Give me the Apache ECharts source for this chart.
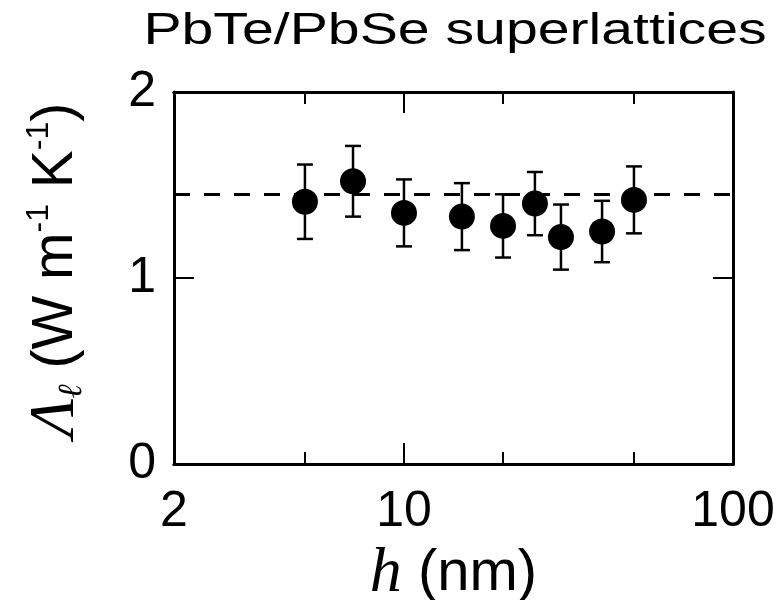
<!DOCTYPE html>
<html>
<head>
<meta charset="utf-8">
<script src="https://cdn.jsdelivr.net/npm/echarts@6.0.0/dist/echarts.min.js"></script>
<style>
    html, body { margin: 0; padding: 0; background: #fff; }
    #main { width: 778px; height: 600px; }
</style>
</head>
<body>
<div id="main"></div>
<script>
var chart = echarts.init(document.getElementById('main'));

// period thickness h (nm), conductivity and error bar half-height
var hValues = [5, 7, 10, 15, 20, 25, 30, 40, 50];
var kValues = [1.41, 1.52, 1.35, 1.33, 1.28, 1.40, 1.22, 1.25, 1.42];
var kErrors = [0.20, 0.19, 0.18, 0.18, 0.17, 0.17, 0.175, 0.165, 0.18];
var meanLine = 1.45;

var xMajorTicks = [10];
var xMinorTicks = [5, 20, 50];
var xLabels = [2, 10, 100];

var points = [];
var bars = [];
for (var i = 0; i < hValues.length; i++) {
    points.push([hValues[i], kValues[i]]);
    bars.push([hValues[i], kValues[i] - kErrors[i], kValues[i] + kErrors[i]]);
}

var black = '#000';
var sans = 'Liberation Sans';

function xAxisDef(pos, ticks, len, labels) {
    return {
        type: 'log',
        logBase: 10,
        min: 2,
        max: 100,
        position: pos,
        axisLine: { show: true, onZero: false, lineStyle: { color: black, width: 3 } },
        axisTick: { show: true, inside: true, length: len, customValues: ticks, lineStyle: { color: black, width: 2 } },
        axisLabel: labels ? {
            show: true, customValues: labels, margin: 23,
            color: black, fontFamily: sans, fontSize: 50
        } : { show: false },
        splitLine: { show: false },
        minorTick: { show: false },
        minorSplitLine: { show: false }
    };
}

function yAxisDef(pos, labels) {
    return {
        type: 'value',
        min: 0,
        max: 2,
        interval: 1,
        position: pos,
        axisLine: { show: true, onZero: false, lineStyle: { color: black, width: 3 } },
        axisTick: { show: true, inside: true, length: 20, lineStyle: { color: black, width: 2 } },
        axisLabel: labels ? { show: true, margin: 18, color: black, fontFamily: sans, fontSize: 50 } : { show: false },
        splitLine: { show: false }
    };
}

var bottomAxis = xAxisDef('bottom', xMajorTicks, 21, xLabels);
bottomAxis.name = '{it|h}{rm| (nm)}';
bottomAxis.nameLocation = 'middle';
bottomAxis.nameGap = 68;
bottomAxis.nameTextStyle = {
    rich: {
        it: { fontFamily: 'Liberation Serif', fontStyle: 'italic', fontSize: 64, color: black },
        rm: { fontFamily: sans, fontSize: 58, color: black }
    }
};

var option = {
    backgroundColor: '#fff',
    animation: false,
    grid: { left: 174, right: 45, top: 92, bottom: 136, containLabel: false, outerBoundsMode: 'none' },
    xAxis: [
        bottomAxis,
        xAxisDef('bottom', xMinorTicks, 12, null),
        xAxisDef('top', xMajorTicks, 21, null),
        xAxisDef('top', xMinorTicks, 12, null)
    ],
    yAxis: [yAxisDef('left', true), yAxisDef('right', false)],
    graphic: [
        {
            type: 'text',
            x: 455,
            y: 10,
            scaleX: 1.3,
            style: {
                text: 'PbTe/PbSe superlattices',
                fontFamily: sans,
                fontSize: 44,
                fill: black,
                align: 'center',
                verticalAlign: 'top'
            }
        },
        {
            type: 'text',
            x: 56,
            y: 270,
            rotation: Math.PI / 2,
            style: {
                text: '{a|Λ}{b|ℓ}{c| (W m}{d|-1}{c| K}{d|-1}{c|)}',
                align: 'center',
                verticalAlign: 'middle',
                rich: {
                    a: { fontFamily: 'Liberation Serif', fontStyle: 'italic', fontSize: 64, lineHeight: 66, fill: black },
                    b: { fontFamily: 'DejaVu Serif', fontStyle: 'italic', fontSize: 34, lineHeight: 34, verticalAlign: 'bottom', fill: black },
                    c: { fontFamily: sans, fontSize: 57, lineHeight: 66, fill: black },
                    d: { fontFamily: sans, fontSize: 32, lineHeight: 32, verticalAlign: 'top', fill: black }
                }
            }
        }
    ],
    series: [
        {
            type: 'custom',
            xAxisIndex: 0,
            yAxisIndex: 0,
            silent: true,
            renderItem: function (params, api) {
                var x = api.value(0);
                var lo = api.coord([x, api.value(1)]);
                var hi = api.coord([x, api.value(2)]);
                var cap = 8;
                var style = { stroke: black, lineWidth: 2.5 };
                return {
                    type: 'group',
                    children: [
                        { type: 'line', shape: { x1: lo[0], y1: lo[1], x2: hi[0], y2: hi[1] }, style: style },
                        { type: 'line', shape: { x1: lo[0] - cap, y1: lo[1], x2: lo[0] + cap, y2: lo[1] }, style: style },
                        { type: 'line', shape: { x1: hi[0] - cap, y1: hi[1], x2: hi[0] + cap, y2: hi[1] }, style: style }
                    ]
                };
            },
            encode: { x: 0, y: [1, 2] },
            data: bars,
            z: 3
        },
        {
            type: 'scatter',
            xAxisIndex: 0,
            yAxisIndex: 0,
            symbol: 'circle',
            symbolSize: 26,
            itemStyle: { color: black, opacity: 1 },
            data: points,
            z: 4,
            markLine: {
                silent: true,
                symbol: ['none', 'none'],
                label: { show: false },
                lineStyle: { color: black, width: 3, type: [16, 14] },
                data: [{ yAxis: meanLine }]
            }
        }
    ]
};

chart.setOption(option);
</script>
</body>
</html>
